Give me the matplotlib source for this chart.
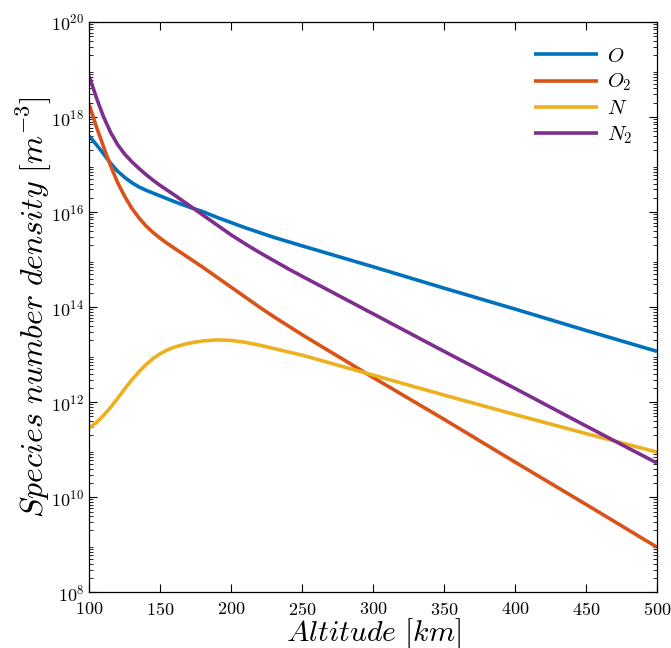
import numpy as np
import matplotlib
matplotlib.use('Agg')
import matplotlib.pyplot as plt
from matplotlib.ticker import LogLocator, NullFormatter, MultipleLocator

# altitude [km] and log10 of number density [m^-3]
altitude = [100, 105, 110, 115, 120, 125, 130, 135, 140, 145, 150, 155, 160, 170,
            180, 190, 200, 210, 220, 230, 240, 250, 300, 350, 400, 450, 500]
log_O = [17.60, 17.42, 17.23, 17.03, 16.86, 16.73, 16.62, 16.53, 16.46, 16.40,
         16.34, 16.28, 16.22, 16.11, 16.01, 15.89, 15.78, 15.67, 15.57, 15.47,
         15.38, 15.29, 14.85, 14.40, 13.96, 13.51, 13.07]
log_O2 = [18.26, 17.80, 17.38, 16.98, 16.62, 16.33, 16.08, 15.88, 15.71, 15.57,
          15.45, 15.34, 15.24, 15.04, 14.84, 14.63, 14.42, 14.21, 14.00, 13.80,
          13.61, 13.42, 12.52, 11.64, 10.74, 9.85, 8.95]
log_N = [11.46, 11.57, 11.72, 11.89, 12.08, 12.28, 12.47, 12.64, 12.79, 12.92,
         13.02, 13.10, 13.16, 13.24, 13.29, 13.31, 13.30, 13.26, 13.20, 13.13,
         13.06, 12.99, 12.57, 12.15, 11.74, 11.34, 10.95]
log_N2 = [18.86, 18.41, 18.01, 17.68, 17.42, 17.22, 17.06, 16.92, 16.79, 16.67,
          16.56, 16.46, 16.36, 16.15, 15.94, 15.73, 15.52, 15.33, 15.15, 14.98,
          14.81, 14.65, 13.86, 13.07, 12.29, 11.50, 10.72]

species = [r'$O$', r'$O_2$', r'$N$', r'$N_2$']
colors = ['#0072BD', '#D95319', '#EDB120', '#7E2F8E']

plt.rcParams['mathtext.fontset'] = 'cm'
plt.rcParams['font.family'] = 'serif'
plt.rcParams['font.serif'] = ['cmr10', 'DejaVu Serif']
plt.rcParams['axes.formatter.use_mathtext'] = True

fig = plt.figure(figsize=(6.71, 6.48), dpi=100)
ax = fig.add_axes([0.133, 0.086, 0.846, 0.880])

alt = np.array(altitude)
for logs, name, c in zip([log_O, log_O2, log_N, log_N2], species, colors):
    ax.semilogy(alt, 10 ** np.array(logs), color=c, lw=2.6, label=name,
                solid_capstyle='butt', solid_joinstyle='round')

ax.set_xlim(100, 500)
ax.set_ylim(1e8, 1e20)
ax.xaxis.set_major_locator(MultipleLocator(50))
ax.yaxis.set_minor_locator(LogLocator(base=10, subs=np.arange(2, 10), numticks=20))
ax.yaxis.set_minor_formatter(NullFormatter())
# only every second decade gets a label
ax.set_yticks([10.0 ** k for k in range(8, 21, 2)])

ax.tick_params(which='both', direction='in', top=True, right=True, labelsize=13)
ax.tick_params(axis='x', pad=6)
ax.tick_params(which='major', length=6, width=0.8)
ax.tick_params(which='minor', length=3, width=0.6)
for s in ax.spines.values():
    s.set_linewidth(0.9)

ax.set_xlabel(r'$Altitude\ [km]$', fontsize=21.5, labelpad=-1.3)
ax.set_ylabel(r'$Species\ number\ density\ [m^{-3}]$', fontsize=23, labelpad=-2)

ax.legend(loc='upper right', frameon=False, fontsize=15, handlelength=3.1,
          labelspacing=0.3, borderaxespad=0.8, handletextpad=0.4)

fig.savefig('out.png', dpi=100)
